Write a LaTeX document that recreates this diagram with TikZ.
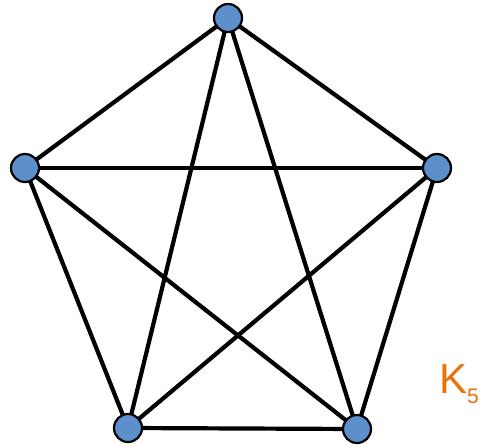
\documentclass[tikz,border=0pt]{standalone}
\usepackage{fontspec}
\setmainfont{Liberation Sans}
\usetikzlibrary{backgrounds}
\definecolor{vertexblue}{RGB}{92,143,204}
\definecolor{labelorange}{RGB}{232,114,12}
\tikzset{
  vertex/.style = {circle, draw=black, line width=2.2pt, fill=vertexblue,
                   inner sep=0pt, minimum size=28pt},
  edge/.style   = {line width=4.2pt, black},
  graphlabel/.style = {text=labelorange, inner sep=0pt, anchor=base west},
}

\begin{document}
\begin{tikzpicture}[x=1pt,y=-1pt]
  \useasboundingbox (0,0) rectangle (484,446);

  % vertices
  \node[vertex] (top)   at (228,18)  {};
  \node[vertex] (left)  at (25,168)  {};
  \node[vertex] (right) at (437,168) {};
  \node[vertex] (bl)    at (128,428) {};
  \node[vertex] (br)    at (357,429) {};

  % all ten edges
  \begin{scope}[on background layer]
    \foreach \a/\b in {top/left,top/right,top/bl,top/br,left/right,
                       left/bl,left/br,right/bl,right/br,bl/br}
      \draw[edge] (\a.center) -- (\b.center);
  \end{scope}

  % label
  \node[graphlabel] (kname) at (439,393)
    {\fontsize{42}{42}\selectfont K\raisebox{-10pt}{\fontsize{21}{21}\selectfont 5}};
\end{tikzpicture}
\end{document}
